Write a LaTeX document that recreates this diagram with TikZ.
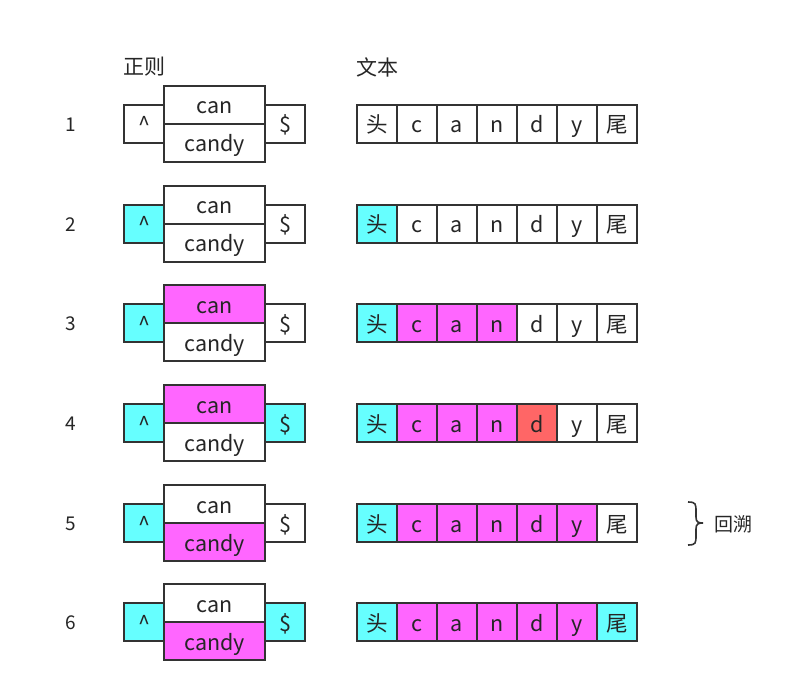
\documentclass[tikz,border=0pt]{standalone}
\usepackage{fontspec}
\setmainfont{Noto Sans CJK SC}
\begin{document}
\begin{tikzpicture}[x=1pt,y=-1pt,
  cell/.style={draw=black!80,line width=1.6pt,minimum width=40pt,minimum height=38pt,inner sep=0pt,outer sep=0pt,font=\fontsize{21.5}{24}\selectfont,text height=18pt,text depth=0pt,anchor=center,text=black!85},
  wide/.style={cell,minimum width=101pt},
  lbl/.style={font=\fontsize{19}{22}\selectfont,text=black!85},
  cy/.style={fill={rgb,255:red,102;green,255;blue,255}},
  mg/.style={fill={rgb,255:red,255;green,102;blue,255}},
  rd/.style={fill={rgb,255:red,255;green,102;blue,102}},
  wh/.style={fill=white}]
\useasboundingbox (0,0) rectangle (810,692);
\node[lbl,font=\fontsize{21}{24}\selectfont] (h1) at (144,67) {正则};
\node[lbl,font=\fontsize{21}{24}\selectfont] (h2) at (377,67) {文本};
\foreach \r/\y/\sA/\sB/\sC/\sD/\tA/\tB/\tC/\tD/\tE/\tF/\tG in {
 1/124/wh/wh/wh/wh/wh/wh/wh/wh/wh/wh/wh,
 2/224/cy/wh/wh/wh/cy/wh/wh/wh/wh/wh/wh,
 3/323/cy/mg/wh/wh/cy/mg/mg/mg/wh/wh/wh,
 4/423/cy/mg/wh/cy/cy/mg/mg/mg/rd/wh/wh,
 5/523/cy/wh/mg/wh/cy/mg/mg/mg/mg/mg/wh,
 6/622/cy/wh/mg/cy/cy/mg/mg/mg/mg/mg/cy}{
  \node[lbl] (n\r) at (71,\y+1) {\r};
  \node[cell,\sA] (c\r) at (144,\y) {\^{}};
  \node[wide,\sB] (a\r) at (214.5,\y-19) {can};
  \node[wide,\sC] (b\r) at (214.5,\y+19) {candy};
  \node[cell,\sD] (d\r) at (285,\y) {\$};
  \node[cell,\tA] (t1\r) at (377,\y) {头};
  \node[cell,\tB] (t2\r) at (417,\y) {c};
  \node[cell,\tC] (t3\r) at (457,\y) {a};
  \node[cell,\tD] (t4\r) at (497,\y) {n};
  \node[cell,\tE] (t5\r) at (537,\y) {d};
  \node[cell,\tF] (t6\r) at (577,\y) {y};
  \node[cell,\tG] (t7\r) at (617,\y) {尾};
}
\coordinate (bt) at (688,502);
\coordinate (bb) at (688,545);
\draw[black!80,line width=1.6pt] (bt) .. controls (696,502) and (696,504) .. (696,512) -- (696,517) .. controls (696,522) and (698,523) .. (703,523)
  .. controls (698,523) and (696,524) .. (696,529) -- (696,535) .. controls (696,543) and (696,545) .. (bb);
\node[lbl,anchor=west] (bt2) at (711,524) {回溯};
\end{tikzpicture}
\end{document}
